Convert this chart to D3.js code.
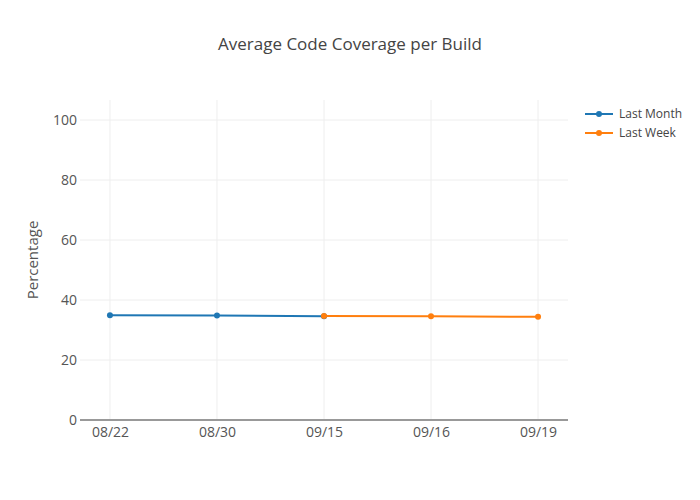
<!DOCTYPE html>
<html><head><meta charset="utf-8">
<script src="https://cdn.jsdelivr.net/npm/d3@7"></script>
<style>body{margin:0;background:#fff}svg{font-family:"Open Sans",sans-serif}</style>
</head><body><svg id="c" width="700" height="500"></svg>
<script>
const categories = ["08/22","08/30","09/15","09/16","09/19"];
const lastMonthDates = ["08/22","08/30","09/15"];
const lastMonthValues = [34.9, 34.8, 34.6];
const lastWeekDates = ["09/15","09/16","09/19"];
const lastWeekValues = [34.65, 34.6, 34.4];
const yTicks = [0,20,40,60,80,100];
const seriesNames = ["Last Month","Last Week"];
const colors = ["#1f77b4","#ff7f0e"];

const svg = d3.select("#c");
const L=80,R=568,T=100,B=420;
const idx = d3.scaleLinear().domain([-0.28, categories.length-1+0.28]).range([L,R]);
const x = c => idx(categories.indexOf(c));
const y = d3.scaleLinear().domain([0,106.67]).range([B,T]);

// grid
svg.append("g").selectAll("line").data(categories).join("line")
  .attr("x1",d=>x(d)).attr("x2",d=>x(d)).attr("y1",T).attr("y2",B)
  .attr("stroke","#eee").attr("stroke-width",1);
svg.append("g").selectAll("line").data(yTicks.filter(t=>t>0)).join("line")
  .attr("x1",L).attr("x2",R).attr("y1",d=>y(d)).attr("y2",d=>y(d))
  .attr("stroke","#eee").attr("stroke-width",1);

// y axis labels
const ya = svg.append("g").attr("transform",`translate(${L},0)`)
  .call(d3.axisLeft(y).tickValues(yTicks).tickSize(0).tickPadding(3));
ya.select(".domain").remove();
ya.selectAll("text").attr("font-family","Open Sans").attr("font-size",14).attr("fill","#555");

// x axis
const xa = svg.append("g").attr("transform",`translate(0,${B})`)
  .call(d3.axisBottom(d3.scalePoint().domain(categories).range([x(categories[0]),x(categories[categories.length-1])])).tickSize(0).tickPadding(7));
xa.select(".domain").remove();
xa.selectAll("text").attr("font-family","Open Sans").attr("font-size",14).attr("fill","#555");
svg.append("line").attr("x1",L).attr("x2",R).attr("y1",B).attr("y2",B).attr("stroke","#999").attr("stroke-width",2);

// series
const series = [
  {dates:lastMonthDates, vals:lastMonthValues},
  {dates:lastWeekDates, vals:lastWeekValues}
];
const line = d3.line().x(d=>x(d[0])).y(d=>y(d[1]));
series.forEach((s,i)=>{
  const pts = s.dates.map((d,j)=>[d,s.vals[j]]);
  svg.append("path").datum(pts).attr("d",line).attr("fill","none")
    .attr("stroke",colors[i]).attr("stroke-width",2);
  svg.append("g").selectAll("circle").data(pts).join("circle")
    .attr("cx",d=>x(d[0])).attr("cy",d=>y(d[1])).attr("r",3).attr("fill",colors[i]);
});

// title
svg.append("text").attr("x",350).attr("y",50).attr("text-anchor","middle")
  .attr("font-size",17).attr("fill","#444").text("Average Code Coverage per Build");
// y title
svg.append("text").attr("transform",`translate(38,${(T+B)/2}) rotate(-90)`)
  .attr("text-anchor","middle").attr("font-size",15).attr("fill","#555").text("Percentage");

// legend
seriesNames.forEach((n,i)=>{
  const ly = 114 + i*19;
  svg.append("line").attr("x1",585).attr("x2",613).attr("y1",ly).attr("y2",ly)
    .attr("stroke",colors[i]).attr("stroke-width",2);
  svg.append("circle").attr("cx",599).attr("cy",ly).attr("r",3).attr("fill",colors[i]);
  svg.append("text").attr("x",619).attr("y",ly+4).attr("font-size",12).attr("fill","#444").text(n);
});
</script></body></html>
